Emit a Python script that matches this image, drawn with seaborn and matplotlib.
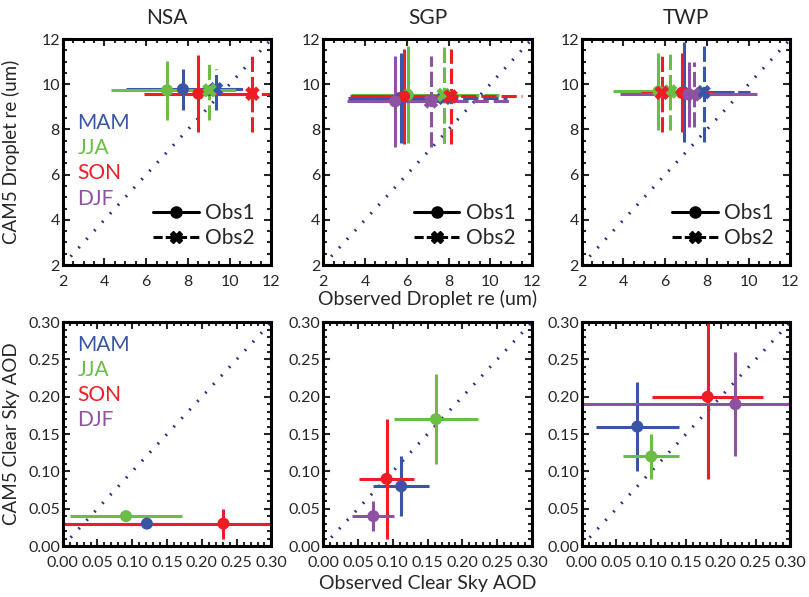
import matplotlib
matplotlib.use("Agg")
import matplotlib.pyplot as plt
from matplotlib.lines import Line2D
from matplotlib.ticker import MultipleLocator
import numpy as np
import pandas as pd
import seaborn as sns

nan = np.nan

seasons = ["MAM", "JJA", "SON", "DJF"]
season_colors = ["#3a55a5", "#6cbd45", "#ee1d25", "#8d52a1"]
sites = ["NSA", "SGP", "TWP"]

# Droplet effective radius (um): observations (x) vs CAM5 (y), per season
nsa_re_obs1 = [7.76, 7.00, 8.50, nan]
nsa_re_obs1_err = [2.75, 2.70, 2.60, nan]
nsa_re_obs2 = [9.35, 9.03, 11.09, nan]
nsa_re_obs2_err = [1.40, 1.40, 1.50, nan]
nsa_re_cam5 = [9.78, 9.73, 9.58, nan]
nsa_re_cam5_err = [0.90, 1.30, 1.70, nan]

sgp_re_obs1 = [5.70, 6.05, 5.87, 5.44]
sgp_re_obs1_err = [2.50, 2.70, 2.60, 2.30]
sgp_re_obs2 = [7.80, 7.77, 8.10, 7.16]
sgp_re_obs2_err = [3.00, 2.90, 3.40, 3.80]
sgp_re_cam5 = [9.40, 9.53, 9.46, 9.24]
sgp_re_cam5_err = [2.00, 2.15, 2.10, 2.00]

twp_re_obs1 = [6.88, 5.68, 6.80, 7.12]
twp_re_obs1_err = [2.40, 2.16, 1.50, 3.28]
twp_re_obs2 = [7.84, 6.24, 5.84, 7.36]
twp_re_obs2_err = [2.24, 1.50, 1.00, 1.50]
twp_re_cam5 = [9.65, 9.68, 9.62, 9.55]
twp_re_cam5_err = [2.20, 1.70, 1.75, 1.45]

# Clear sky AOD: observation (x) vs CAM5 (y)
nsa_aod_obs = [0.121, 0.091, 0.231, nan]
nsa_aod_obs_err = [0.060, 0.080, 0.240, nan]
nsa_aod_cam5 = [0.030, 0.040, 0.030, nan]
nsa_aod_cam5_err = [0.006, 0.004, 0.020, nan]

sgp_aod_obs = [0.112, 0.162, 0.091, 0.072]
sgp_aod_obs_err = [0.040, 0.060, 0.040, 0.030]
sgp_aod_cam5 = [0.080, 0.170, 0.090, 0.040]
sgp_aod_cam5_err = [0.040, 0.060, 0.080, 0.020]

twp_aod_obs = [0.080, 0.100, 0.181, 0.221]
twp_aod_obs_err = [0.060, 0.040, 0.080, 0.240]
twp_aod_cam5 = [0.160, 0.120, 0.200, 0.190]
twp_aod_cam5_err = [0.060, 0.030, 0.110, 0.070]

re_sets = [
    (nsa_re_obs1, nsa_re_obs1_err, nsa_re_obs2, nsa_re_obs2_err, nsa_re_cam5, nsa_re_cam5_err),
    (sgp_re_obs1, sgp_re_obs1_err, sgp_re_obs2, sgp_re_obs2_err, sgp_re_cam5, sgp_re_cam5_err),
    (twp_re_obs1, twp_re_obs1_err, twp_re_obs2, twp_re_obs2_err, twp_re_cam5, twp_re_cam5_err),
]
aod_sets = [
    (nsa_aod_obs, nsa_aod_obs_err, nsa_aod_cam5, nsa_aod_cam5_err),
    (sgp_aod_obs, sgp_aod_obs_err, sgp_aod_cam5, sgp_aod_cam5_err),
    (twp_aod_obs, twp_aod_obs_err, twp_aod_cam5, twp_aod_cam5_err),
]

re_lim = (2, 12)
aod_lim = (0.0, 0.30)

sns.set_style("white")
plt.rcParams['font.family'] = ['Lato', 'DejaVu Sans']
palette = dict(zip(seasons, season_colors))
diag_color = "#2b2f86"

fig = plt.figure(figsize=(8.09, 5.97), dpi=100)
lefts = [0.0775, 0.3996, 0.719]
width = 0.258
top_axes = [fig.add_axes([l, 0.556, width, 0.3786]) for l in lefts]
bot_axes = [fig.add_axes([l, 0.0854, width, 0.375]) for l in lefts]


def style_axis(ax, lim, major, minor, fmt):
    ax.set_xlim(lim)
    ax.set_ylim(lim)
    ax.xaxis.set_major_locator(MultipleLocator(major))
    ax.yaxis.set_major_locator(MultipleLocator(major))
    ax.xaxis.set_minor_locator(MultipleLocator(minor))
    ax.yaxis.set_minor_locator(MultipleLocator(minor))
    ax.xaxis.set_major_formatter(fmt)
    ax.yaxis.set_major_formatter(fmt)
    ax.tick_params(which="both", direction="in", top=True, right=True,
                   bottom=True, left=True, width=1.5, labelsize=11.5)
    ax.tick_params(which="major", length=5)
    ax.tick_params(which="minor", length=3)
    ax.tick_params(axis="y", pad=2)
    ax.tick_params(axis="x", pad=7)
    for s in ax.spines.values():
        s.set_linewidth(2.2)
        s.set_color("black")
    ax.plot(lim, lim, ls=(0, (0.6, 3.2)), lw=2.2, color=diag_color, zorder=1)


def draw_err(ax, x, y, xe, ye, color, dashed=False):
    if np.isnan(x):
        return
    eb = ax.errorbar(x, y, xerr=xe, yerr=ye, fmt="none", ecolor=color,
                     elinewidth=2.2, capsize=0, zorder=2)
    if dashed:
        for lc in eb[2]:
            lc.set_linestyle((0, (5, 1.6)))


# top row: droplet re
for ax, site, data in zip(top_axes, sites, re_sets):
    obs1, obs1_e, obs2, obs2_e, cam, cam_e = data
    style_axis(ax, re_lim, 2, 0.5, "{x:.0f}")
    for i in range(len(seasons)):
        c = season_colors[i]
        draw_err(ax, obs1[i], cam[i], obs1_e[i], cam_e[i], c)
        draw_err(ax, obs2[i], cam[i], obs2_e[i], cam_e[i], c, dashed=True)
    df = pd.DataFrame({"season": seasons, "obs1": obs1, "obs2": obs2, "cam5": cam}).dropna()
    sns.scatterplot(data=df, x="obs1", y="cam5", hue="season", palette=palette,
                    marker="o", s=75, linewidth=0, legend=False, ax=ax, zorder=3)
    sns.scatterplot(data=df, x="obs2", y="cam5", hue="season", palette=palette,
                    marker="X", s=110, linewidth=0, legend=False, ax=ax, zorder=3)
    ax.set_xlabel("")
    ax.set_ylabel("")
    ax.set_title(site, fontsize=15, pad=11)
    handles = [
        Line2D([], [], color="black", lw=2.2, marker="o", ms=8),
        Line2D([], [], color="black", lw=2.2, ls=(0, (3, 1)), marker="X", ms=9),
    ]
    ax.legend(handles, ["Obs1", "Obs2"], loc="lower right", frameon=False,
              fontsize=15, handlelength=2.2, handletextpad=0.3,
              labelspacing=0.25, borderaxespad=0.4)

# bottom row: AOD
for ax, site, data in zip(bot_axes, sites, aod_sets):
    obs, obs_e, cam, cam_e = data
    style_axis(ax, aod_lim, 0.05, 0.01, "{x:.2f}")
    for i in range(len(seasons)):
        draw_err(ax, obs[i], cam[i], obs_e[i], cam_e[i], season_colors[i])
    df = pd.DataFrame({"season": seasons, "obs": obs, "cam5": cam}).dropna()
    sns.scatterplot(data=df, x="obs", y="cam5", hue="season", palette=palette,
                    marker="o", s=75, linewidth=0, legend=False, ax=ax, zorder=3)
    ax.set_xlabel("")
    ax.set_ylabel("")

# season labels
for ax, y0 in [(top_axes[0], 0.63), (bot_axes[0], 0.90)]:
    for i, (name, c) in enumerate(zip(seasons, season_colors)):
        ax.text(0.07, y0 - 0.112 * i, name, color=c, fontsize=15,
                transform=ax.transAxes, va="center", ha="left")

top_axes[0].set_ylabel("CAM5 Droplet re (um)", fontsize=13.5)
bot_axes[0].set_ylabel("CAM5 Clear Sky AOD", fontsize=13.5)
top_axes[0].yaxis.set_label_coords(-0.205, 0.5)
bot_axes[0].yaxis.set_label_coords(-0.205, 0.5)
top_axes[1].set_xlabel("Observed Droplet re (um)", fontsize=14, labelpad=1)
bot_axes[1].set_xlabel("Observed Clear Sky AOD", fontsize=14, labelpad=4)

fig.savefig("out.png", dpi=100)
